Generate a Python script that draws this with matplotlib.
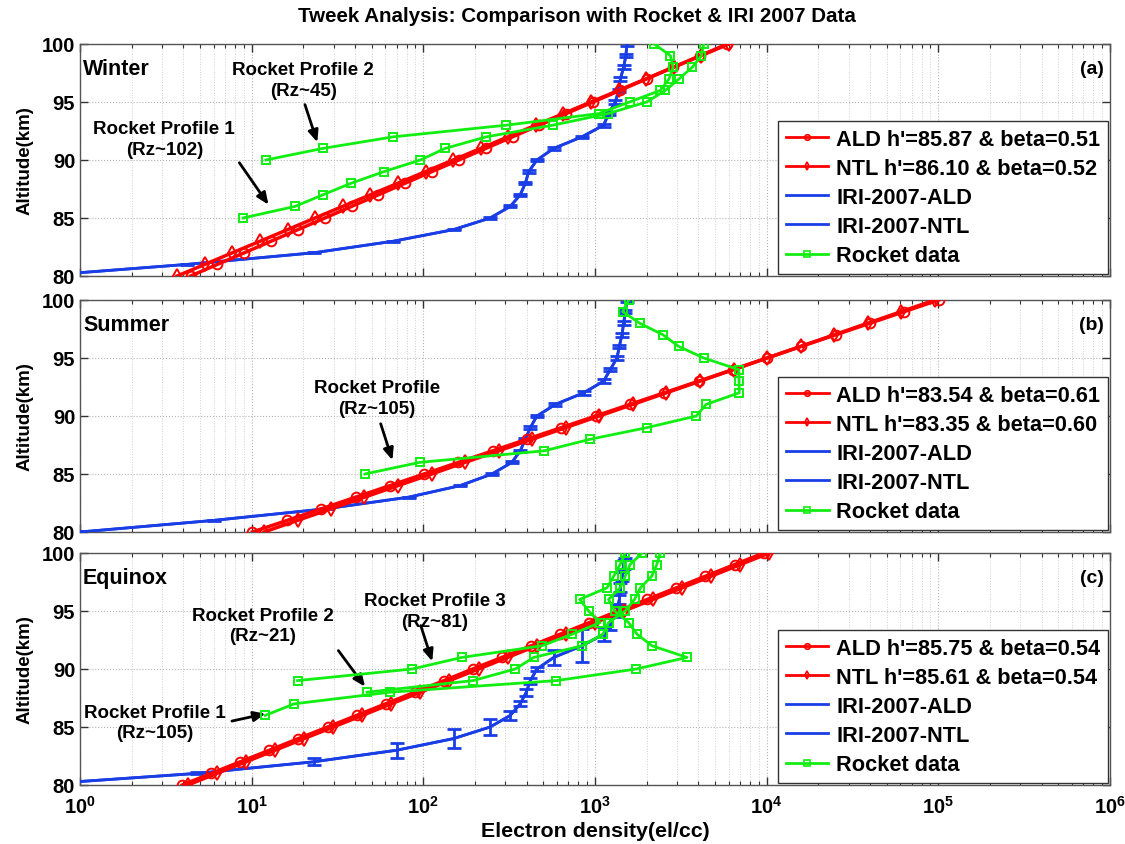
import matplotlib
matplotlib.use('Agg')
import matplotlib.pyplot as plt
from matplotlib.lines import Line2D
from matplotlib.ticker import FixedLocator, FixedFormatter, LogLocator, NullFormatter

plt.rcParams['font.family'] = ['Liberation Sans', 'DejaVu Sans']
plt.rcParams['font.weight'] = 'bold'
plt.rcParams['mathtext.fontset'] = 'custom'
plt.rcParams['mathtext.rm'] = 'Liberation Sans:bold'
plt.rcParams['mathtext.bf'] = 'Liberation Sans:bold'
plt.rcParams['mathtext.default'] = 'bf'

# ---------------- data ----------------
alt_km = [80, 81, 82, 83, 84, 85, 86, 87, 88, 89, 90, 91, 92, 93, 94, 95, 96, 97, 98, 99, 100]

# Winter (a)
ald_a = [4.41, 6.31, 9.05, 12.97, 18.6, 26.7, 38.2, 54.7, 78.4, 112, 161, 231, 331, 474, 679, 974, 1396, 2000, 2866, 4108, 5888]
ntl_a = [3.68, 5.33, 7.71, 11.2, 16.2, 23.4, 33.9, 49.1, 71.1, 103, 149, 216, 312, 452, 654, 947, 1371, 1985, 2874, 4160, 6023]
iri_a = [0.56, 4.2, 23, 67, 150, 245, 321, 367, 393, 411, 459, 575, 840, 1122, 1202, 1313, 1374, 1406, 1469, 1513, 1535]
iri_err_a = [0.05, 0.05, 0.05, 0.05, 0.05, 0.05, 0.08, 0.1, 0.1, 0.1, 0.1, 0.1, 0.1, 0.12, 0.15, 0.15, 0.15, 0.15, 0.15, 0.15, 0.15]
rk1_alt_a = [85, 86, 87, 88, 89, 90, 91, 92, 93, 94, 95, 96, 97, 98, 99, 100]
rk1_a = [8.9, 17.9, 26, 38, 59, 96, 134, 233, 568, 1190, 2000, 2570, 3090, 3690, 4170, 4300]
rk2_alt_a = [90, 91, 92, 93, 94, 95, 96, 97, 98, 99, 100]
rk2_a = [12.1, 26, 67, 304, 1050, 1590, 2400, 2700, 2850, 2750, 2210]

# Summer (b)
ald_b = [10.1, 16.1, 25.5, 40.3, 63.9, 101, 160, 254, 402, 637, 1009, 1597, 2531, 4009, 6353, 10069, 15922, 25235, 39994, 63387, 100462]
ntl_b = [11.8, 18.5, 29.0, 45.4, 71.3, 112, 175, 275, 431, 676, 1060, 1662, 2607, 4089, 6412, 10055, 15768, 24729, 38781, 60818, 95378]
iri_b = [1.0, 6.0, 27, 82, 164, 251, 328, 367, 393, 420, 459, 588, 859, 1122, 1227, 1343, 1386, 1436, 1469, 1503, 1535]
iri_err_b = [0.05, 0.05, 0.05, 0.05, 0.05, 0.05, 0.08, 0.1, 0.1, 0.1, 0.1, 0.1, 0.15, 0.15, 0.15, 0.15, 0.15, 0.15, 0.15, 0.15, 0.15]
rk1_alt_b = [85, 86, 87, 88, 89, 90, 91, 92, 93, 94, 95, 96, 97, 98, 99, 100]
rk1_b = [45.7, 95, 507, 940, 2010, 3890, 4440, 6920, 6900, 6870, 4300, 3070, 2490, 1820, 1450, 1570]

# Equinox (c)
ald_c = [3.94, 5.81, 8.58, 12.7, 18.7, 27.7, 40.9, 60.4, 89.2, 132, 194, 287, 424, 626, 925, 1366, 2018, 2980, 4401, 6501, 9602]
ntl_c = [4.25, 6.27, 9.26, 13.7, 20.2, 29.9, 44.1, 65.1, 96.2, 142, 210, 310, 457, 676, 998, 1474, 2177, 3216, 4750, 7016, 10362]
iri_c = [0.51, 4.8, 23, 70, 150, 245, 321, 367, 398, 420, 459, 575, 840, 1122, 1227, 1343, 1386, 1406, 1436, 1469, 1503]
iri_err_c = [0.0, 0.08, 0.3, 0.65, 0.8, 0.65, 0.37, 0.2, 0.3, 0.25, 0.2, 0.65, 1.43, 0.6, 0.6, 0.5, 0.4, 0.4, 0.4, 0.4, 0.4]
rk1_alt_c = [86, 87, 88, 89, 90, 91, 92, 93, 94, 95, 96, 97, 98, 99, 100]
rk1_c = [12, 17.7, 64, 596, 1738, 3436, 2148, 1758, 1570, 1300, 1200, 1400, 1500, 1600, 1880]
rk2_alt_c = [88, 89, 90, 91, 92, 93, 94, 95, 96, 97, 98, 99, 100]
rk2_c = [47, 195, 343, 440, 840, 1114, 1200, 1500, 1700, 1840, 2140, 2290, 2400]
rk3_alt_c = [89, 90, 91, 92, 93, 94, 95, 96, 97, 98, 99, 100]
rk3_c = [18.5, 86, 168, 490, 735, 1070, 918, 815, 1175, 1285, 1400, 1500]

legend_labels = {
    'a': ["ALD h'=85.87 & beta=0.51", "NTL h'=86.10 & beta=0.52"],
    'b': ["ALD h'=83.54 & beta=0.61", "NTL h'=83.35 & beta=0.60"],
    'c': ["ALD h'=85.75 & beta=0.54", "NTL h'=85.61 & beta=0.54"],
}
season_names = {'a': 'Winter', 'b': 'Summer', 'c': 'Equinox'}
xtick_vals = [1e0, 1e1, 1e2, 1e3, 1e4, 1e5, 1e6]
xtick_labels = [r'$10^{0}$', r'$10^{1}$', r'$10^{2}$', r'$10^{3}$', r'$10^{4}$', r'$10^{5}$', r'$10^{6}$']

RED = '#ff0000'
BLUE = '#1a3ee6'
GREEN = '#11ee11'

panels = {
    'a': dict(ald=ald_a, ntl=ntl_a, iri=iri_a, err=iri_err_a,
              rockets=[(rk1_a, rk1_alt_a), (rk2_a, rk2_alt_a)]),
    'b': dict(ald=ald_b, ntl=ntl_b, iri=iri_b, err=iri_err_b,
              rockets=[(rk1_b, rk1_alt_b)]),
    'c': dict(ald=ald_c, ntl=ntl_c, iri=iri_c, err=iri_err_c,
              rockets=[(rk1_c, rk1_alt_c), (rk2_c, rk2_alt_c), (rk3_c, rk3_alt_c)]),
}

W, H = 1125, 845
fig = plt.figure(figsize=(W / 100, H / 100), dpi=100)
left_px, right_px = 80, 1110
tops = {'a': 45, 'b': 301, 'c': 554}
ax_h = 232

axes = {}
for key in ['a', 'b', 'c']:
    top = tops[key]
    ax = fig.add_axes([left_px / W, 1 - (top + ax_h) / H, (right_px - left_px) / W, ax_h / H])
    axes[key] = ax
    d = panels[key]
    ax.set_xscale('log')
    ax.set_xlim(1, 1e6)
    ax.set_ylim(80, 100)

    ax.plot(d['ald'], alt_km, '-o', color=RED, lw=2.5, ms=7, mfc='none', mew=1.4, zorder=4)
    ax.plot(d['ntl'], alt_km, '-d', color=RED, lw=2.5, ms=7, mfc='none', mew=1.4, zorder=4)
    ax.plot(d['iri'], alt_km, '-', color=BLUE, lw=2, zorder=3)
    ax.errorbar(d['iri'], alt_km, yerr=d['err'], color=BLUE, lw=2, elinewidth=2,
                capsize=5, capthick=2, zorder=3)
    for xs, ys in d['rockets']:
        ax.plot(xs, ys, '-s', color=GREEN, lw=2, ms=6, mfc='none', mew=1.4, zorder=5)

    ax.xaxis.set_major_locator(FixedLocator(xtick_vals))
    ax.xaxis.set_minor_locator(LogLocator(base=10, subs=[2, 3, 4, 5, 6, 7, 8, 9], numticks=20))
    ax.xaxis.set_minor_formatter(NullFormatter())
    if key == 'c':
        ax.xaxis.set_major_formatter(FixedFormatter(xtick_labels))
    else:
        ax.xaxis.set_major_formatter(NullFormatter())
    ax.set_yticks([80, 85, 90, 95, 100])
    ax.grid(True, which='major', ls=':', color='#b5b5b5', lw=0.8)
    ax.grid(True, which='minor', axis='x', ls=':', color='#cfcfcf', lw=0.7)
    ax.tick_params(which='both', direction='in', top=True, right=True, colors='#333333',
                   labelcolor='black', labelsize=14.5)
    ax.tick_params(which='major', length=6, width=1)
    ax.tick_params(which='minor', length=3, width=0.8)
    for sp in ax.spines.values():
        sp.set_color('#555555')
        sp.set_linewidth(1.0)
    ax.set_ylabel('Altitude(km)', fontsize=13.5, fontweight='bold', labelpad=6)

    ax.text(0.003, 0.895, season_names[key], transform=ax.transAxes, fontsize=15.5,
            fontweight='bold', ha='left', va='center')
    ax.text(0.994, 0.895, '(%s)' % key, transform=ax.transAxes, fontsize=14,
            fontweight='bold', ha='right', va='center')

    handles = [
        Line2D([], [], color=RED, lw=2, marker='o', ms=4, mfc='none', mew=1.2),
        Line2D([], [], color=RED, lw=2, marker='d', ms=4, mfc='none', mew=1.2),
        Line2D([], [], color=BLUE, lw=2),
        Line2D([], [], color=BLUE, lw=2),
        Line2D([], [], color=GREEN, lw=2, marker='s', ms=4, mfc='none', mew=1.2),
    ]
    labels = legend_labels[key] + ['IRI-2007-ALD', 'IRI-2007-NTL', 'Rocket data']
    leg = ax.legend(handles, labels, loc='lower right', frameon=True,
                    fancybox=False, borderaxespad=0.1, handlelength=1.95,
                    handletextpad=0.35, labelspacing=0.37, borderpad=0.35,
                    prop={'weight': 'bold', 'size': 15.7})
    leg.get_frame().set_edgecolor('#333333')
    leg.get_frame().set_linewidth(1.0)
    leg.get_frame().set_alpha(1)
    leg.set_zorder(10)

ARROW = dict(arrowstyle='-|>,head_length=0.7,head_width=0.3', color='black', lw=2)
FS_ANN = 13.5

# Winter annotations
ax = axes['a']
ax.text(20, 96.9, 'Rocket Profile 2\n(Rz~45)', ha='center', va='center', fontsize=FS_ANN,
        fontweight='bold', linespacing=1.25)
ax.annotate('', xy=(24.4, 91.3), xytext=(20.2, 95.0), arrowprops=ARROW)
ax.text(3.1, 91.8, 'Rocket Profile 1\n(Rz~102)', ha='center', va='center', fontsize=FS_ANN,
        fontweight='bold', linespacing=1.25)
ax.annotate('', xy=(12.8, 85.95), xytext=(8.3, 89.96), arrowprops=ARROW)

# Summer annotations
ax = axes['b']
ax.text(53.7, 91.55, 'Rocket Profile\n(Rz~105)', ha='center', va='center', fontsize=FS_ANN,
        fontweight='bold', linespacing=1.25)
ax.annotate('', xy=(66.8, 85.96), xytext=(55.8, 89.56), arrowprops=ARROW)

# Equinox annotations
ax = axes['c']
ax.text(117, 95.0, 'Rocket Profile 3\n(Rz~81)', ha='center', va='center', fontsize=FS_ANN,
        fontweight='bold', linespacing=1.25)
ax.annotate('', xy=(114, 90.43), xytext=(95.5, 93.97), arrowprops=ARROW)
ax.text(11.6, 93.75, 'Rocket Profile 2\n(Rz~21)', ha='center', va='center', fontsize=FS_ANN,
        fontweight='bold', linespacing=1.25)
ax.annotate('', xy=(46.8, 88.28), xytext=(31.3, 91.78), arrowprops=ARROW)
ax.text(2.74, 85.4, 'Rocket Profile 1\n(Rz~105)', ha='center', va='center', fontsize=FS_ANN,
        fontweight='bold', linespacing=1.25)
ax.annotate('', xy=(12.5, 86.2), xytext=(7.4, 85.46), arrowprops=ARROW)
ax.set_xlabel('Electron density(el/cc)', fontsize=15.4, fontweight='bold', labelpad=3)
ax.tick_params(axis='x', pad=7)

fig.text(577 / W, 1 - 16 / H, 'Tweek Analysis: Comparison with Rocket & IRI 2007 Data',
         ha='center', va='center', fontsize=14.8, fontweight='bold')

fig.savefig('out.png', dpi=100)
